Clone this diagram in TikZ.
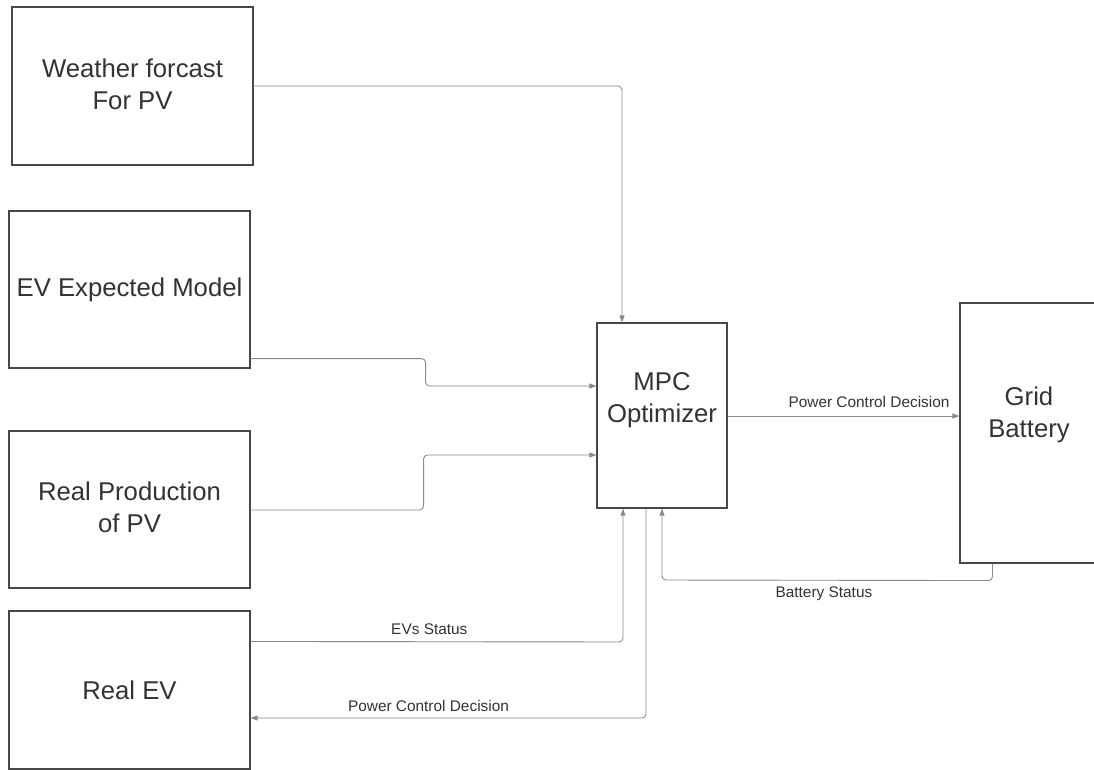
\documentclass[tikz,border=0pt]{standalone}
\usepackage{fontspec}
\setmainfont{Liberation Sans}
\usetikzlibrary{calc,arrows.meta}
\tikzset {>={Triangle[length=7pt,width=5pt]}}
\definecolor{inkgray}{HTML}{333333}
\definecolor{linegray}{HTML}{8A8A8A}
\tikzset{
  block/.style={draw=inkgray!90,line width=1.1pt,minimum width=241pt,
    minimum height=157pt,inner sep=0pt},
  blocktext/.style={text=inkgray,align=center,
    font=\fontsize{25.7}{32}\selectfont},
  conn/.style={draw=linegray,line width=0.9pt,rounded corners=4pt,->},
  tag/.style={text=inkgray,font=\fontsize{15.4}{18}\selectfont,inner sep=2pt}
}

\begin{document}
\begin{tikzpicture}[x=1pt,y=-1pt]
\useasboundingbox[fill=white] (0,0) rectangle (1094,770);
% inputs on the left
\node[block,minimum height=158pt] (weather) at (132.5,86) {};
\node[blocktext] (weathertext) at ($(weather)+(0,-2)$) {Weather forcast\\For PV};
\node[block] (evmodel) at (129.5,289.5) {};
\node[blocktext] (evmodeltext) at (evmodel) {EV Expected Model};
\node[block] (realpv) at (129.5,509.5) {};
\node[blocktext] (realpvtext) at ($(realpv)+(0,-2)$) {Real Production\\of PV};
\node[block,minimum height=158pt] (realev) at (129.5,690) {};
\node[blocktext] (realevtext) at (realev) {Real EV};
% optimizer and battery
\node[block,minimum width=130pt,minimum height=185pt] (mpc) at (662,415.5) {};
\node[blocktext] (mpctext) at ($(mpc)+(0,-15)$) {MPC\\Optimizer};
\node[block,minimum width=138pt,minimum height=260pt] (grid) at (1029,433) {};
\node[blocktext] (gridtext) at ($(grid)+(0,-18)$) {Grid\\Battery};

\draw[conn] (weather.east) -| ($(mpc.north)+(-40,0)$);
\draw[conn] ($(evmodel.south east)+(0,-10)$) -- ++(175,0)
  |- ($(mpc.west)+(0,-29.5)$);
\draw[conn] ($(realpv.east)+(0,0.5)$) -- ++(173,0)
  |- ($(mpc.west)+(0,39.5)$);

\coordinate (evcorner) at ($(mpc.south)+(-39,0)$);
\draw[conn] ($(realev.north east)+(0,31)$) --
  node[tag,above=5pt,pos=0.48] {EVs Status} (evcorner |- 0,642) -- (evcorner);
\coordinate (pcdcorner) at ($(mpc.south)+(-16,0)$);
\draw[conn] (pcdcorner) -- (pcdcorner |- 0,718) --
  node[tag,above=4pt,pos=0.55] {Power Control Decision} ($(realev.east)+(0,28)$);

\draw[conn] ($(mpc.east)+(0,0.5)$) --
  node[tag,above=6pt,pos=0.61] {Power Control Decision} ($(grid.west)+(0,-17)$);
\coordinate (batcorner) at ($(grid.south west)+(33,0)$);
\draw[conn] (batcorner) -- ++(0,17) --
  node[tag,below=4pt,pos=0.51] {Battery Status} (mpc.south |- 0,580) -- (mpc.south);
\end{tikzpicture}
\end{document}
